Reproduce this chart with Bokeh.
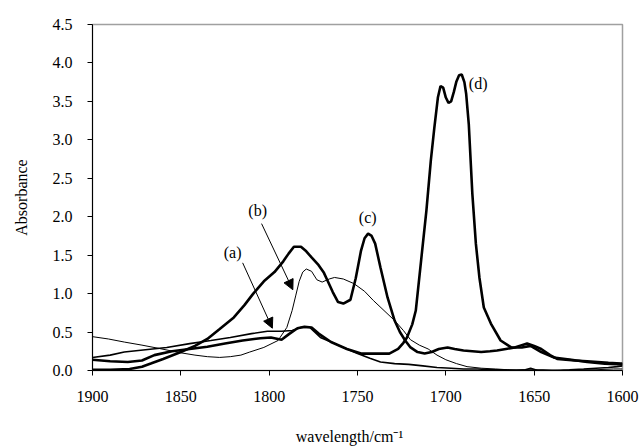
from bokeh.plotting import figure
from bokeh.models import Range1d, FixedTicker, NumeralTickFormatter, Label, Arrow, NormalHead
from bokeh.embed import file_html
from bokeh.resources import INLINE

# ---- data (wavenumber / absorbance) ----
a_x = [1900, 1890, 1882, 1870, 1858, 1845, 1833, 1822, 1810, 1801, 1793, 1787, 1782, 1777, 1771, 1766,
       1761, 1755, 1750, 1743, 1737, 1729, 1721, 1713, 1705, 1697, 1690, 1682, 1675, 1667, 1660, 1655,
       1652, 1648, 1640, 1630, 1622, 1615, 1608, 1603, 1600]
a_y = [0.17, 0.20, 0.24, 0.27, 0.30, 0.35, 0.39, 0.43, 0.48, 0.51, 0.51, 0.52, 0.56, 0.56, 0.43, 0.38,
       0.33, 0.27, 0.22, 0.16, 0.11, 0.09, 0.08, 0.06, 0.04, 0.03, 0.02, 0.02, 0.01, 0.01, 0.00, 0.01,
       0.03, 0.00, 0.00, 0.01, 0.02, 0.03, 0.04, 0.05, 0.06]

b_x = [1900, 1891, 1882, 1872, 1863, 1850, 1842, 1835, 1828, 1822, 1816, 1811, 1803, 1795, 1790, 1787,
       1785, 1783, 1781, 1779, 1776, 1773, 1770, 1766, 1763, 1758, 1752, 1746, 1741, 1735, 1729, 1724,
       1720, 1715, 1710, 1705, 1700, 1694, 1688, 1680, 1672, 1665, 1655, 1645, 1635, 1625, 1615, 1605, 1600]
b_y = [0.44, 0.41, 0.37, 0.33, 0.29, 0.23, 0.20, 0.18, 0.17, 0.18, 0.20, 0.24, 0.30, 0.39, 0.56, 0.78,
       0.97, 1.16, 1.28, 1.32, 1.29, 1.18, 1.15, 1.19, 1.21, 1.19, 1.13, 1.03, 0.91, 0.78, 0.65, 0.52,
       0.40, 0.33, 0.28, 0.20, 0.14, 0.09, 0.05, 0.03, 0.02, 0.01, 0.01, 0.01, 0.00, 0.01, 0.01, 0.02, 0.02]

c_x = [1900, 1890, 1879, 1872, 1867, 1860, 1850, 1842, 1835, 1828, 1820, 1814, 1809, 1803, 1797, 1792,
       1789, 1786, 1782, 1779, 1776, 1772, 1769, 1767, 1764, 1761, 1758, 1754, 1751, 1748, 1746, 1744,
       1742, 1740, 1737, 1733, 1729, 1726, 1723, 1720, 1716, 1712, 1708, 1704, 1699, 1695, 1690, 1685,
       1680, 1675, 1671, 1666, 1661, 1657, 1654, 1650, 1646, 1641, 1637, 1632, 1627, 1620, 1614, 1608, 1601, 1600]
c_y = [0.01, 0.01, 0.02, 0.05, 0.09, 0.15, 0.24, 0.32, 0.41, 0.54, 0.69, 0.85, 1.00, 1.16, 1.28, 1.42,
       1.52, 1.61, 1.61, 1.55, 1.47, 1.37, 1.27, 1.17, 1.02, 0.89, 0.87, 0.92, 1.20, 1.56, 1.72, 1.78,
       1.75, 1.65, 1.34, 0.95, 0.65, 0.50, 0.39, 0.30, 0.24, 0.22, 0.24, 0.28, 0.30, 0.28, 0.26, 0.25,
       0.24, 0.25, 0.26, 0.28, 0.30, 0.33, 0.35, 0.32, 0.28, 0.20, 0.15, 0.14, 0.13, 0.12, 0.11, 0.10, 0.09, 0.09]

d_x = [1900, 1890, 1880, 1872, 1865, 1855, 1845, 1835, 1825, 1815, 1805, 1799, 1793, 1789, 1784, 1780,
       1776, 1772, 1765, 1756, 1748, 1740, 1732, 1727, 1724, 1722, 1719, 1717, 1714, 1711, 1708.5, 1706.5,
       1704.5, 1703, 1701.5, 1700, 1698.5, 1697, 1695.5, 1694, 1692.5, 1691, 1689.5, 1688.5, 1687, 1685,
       1683, 1681, 1678.5, 1674.5, 1669, 1663, 1657, 1652, 1646, 1639, 1629, 1620, 1610, 1600]
d_y = [0.14, 0.12, 0.11, 0.13, 0.20, 0.25, 0.28, 0.31, 0.35, 0.39, 0.42, 0.43, 0.40, 0.47, 0.55, 0.57,
       0.56, 0.48, 0.37, 0.28, 0.22, 0.22, 0.22, 0.28, 0.36, 0.43, 0.60, 0.78, 1.43, 2.08, 2.73, 3.16,
       3.55, 3.70, 3.68, 3.55, 3.48, 3.50, 3.62, 3.76, 3.84, 3.85, 3.75, 3.60, 3.20, 2.30,
       1.65, 1.21, 0.82, 0.61, 0.39, 0.30, 0.30, 0.32, 0.24, 0.17, 0.14, 0.11, 0.09, 0.08]

x_ticks = [1900, 1850, 1800, 1750, 1700, 1650, 1600]
y_ticks = [0.0, 0.5, 1.0, 1.5, 2.0, 2.5, 3.0, 3.5, 4.0, 4.5]

curve_labels = ["(a)", "(b)", "(c)", "(d)"]
label_pos = [(1820.7, 1.53), (1806.5, 2.08), (1744.2, 1.99), (1687.0, 3.73)]
arrows = [((1815.0, 1.40), (1798.2, 0.55)), ((1804.3, 1.91), (1786.6, 1.05))]

FONT = "Liberation Serif"

p = figure(width=641, height=448, output_backend="svg", toolbar_location=None,
           x_range=Range1d(1900, 1600), y_range=Range1d(0, 4.5),
           min_border_left=92, min_border_right=19, min_border_top=24, min_border_bottom=78)
p.xgrid.visible = False
p.ygrid.visible = False
p.outline_line_color = "#a0a0a0"
p.outline_line_width = 1.5
p.background_fill_color = "white"
p.border_fill_color = "white"

for ax in (p.xaxis[0], p.yaxis[0]):
    ax.axis_line_color = "black"
    ax.major_tick_line_color = "black"
    ax.minor_tick_line_color = None
    ax.major_tick_in = 0
    ax.major_tick_out = 5
    ax.major_label_text_font = FONT
    ax.major_label_text_font_size = "16px"
    ax.major_label_text_color = "black"
    ax.axis_label_text_font = FONT
    ax.axis_label_text_font_size = "16px"
    ax.axis_label_text_font_style = "normal"
    ax.axis_label_text_color = "black"

p.xaxis.ticker = FixedTicker(ticks=x_ticks)
p.yaxis.ticker = FixedTicker(ticks=y_ticks)
p.yaxis.formatter = NumeralTickFormatter(format="0.0")
p.xaxis.major_label_standoff = 15
p.yaxis.major_label_standoff = 15

p.yaxis.axis_label = "Absorbance"
p.yaxis.axis_label_standoff = 20
p.xaxis.axis_label = "wavelength/cm\u207b\u00b9\u00a0\u00a0\u00a0\u00a0"
p.xaxis.axis_label_standoff = 23

p.line(a_x, a_y, line_color="black", line_width=1.6)
p.line(b_x, b_y, line_color="black", line_width=1.0)
p.line(c_x, c_y, line_color="black", line_width=2.6)
p.line(d_x, d_y, line_color="black", line_width=2.6)

for txt, (lx, ly) in zip(curve_labels, label_pos):
    align = "left" if txt == "(d)" else "center"
    p.add_layout(Label(x=lx, y=ly, text=txt, text_font=FONT, text_font_size="16px",
                       text_align=align, text_baseline="middle", text_color="black"))

for (tail, tip) in arrows:
    p.add_layout(Arrow(x_start=tail[0], y_start=tail[1], x_end=tip[0], y_end=tip[1],
                       line_color="black", line_width=1,
                       end=NormalHead(size=10, fill_color="black", line_color="black")))

open("out.html", "w").write(file_html(p, INLINE))
